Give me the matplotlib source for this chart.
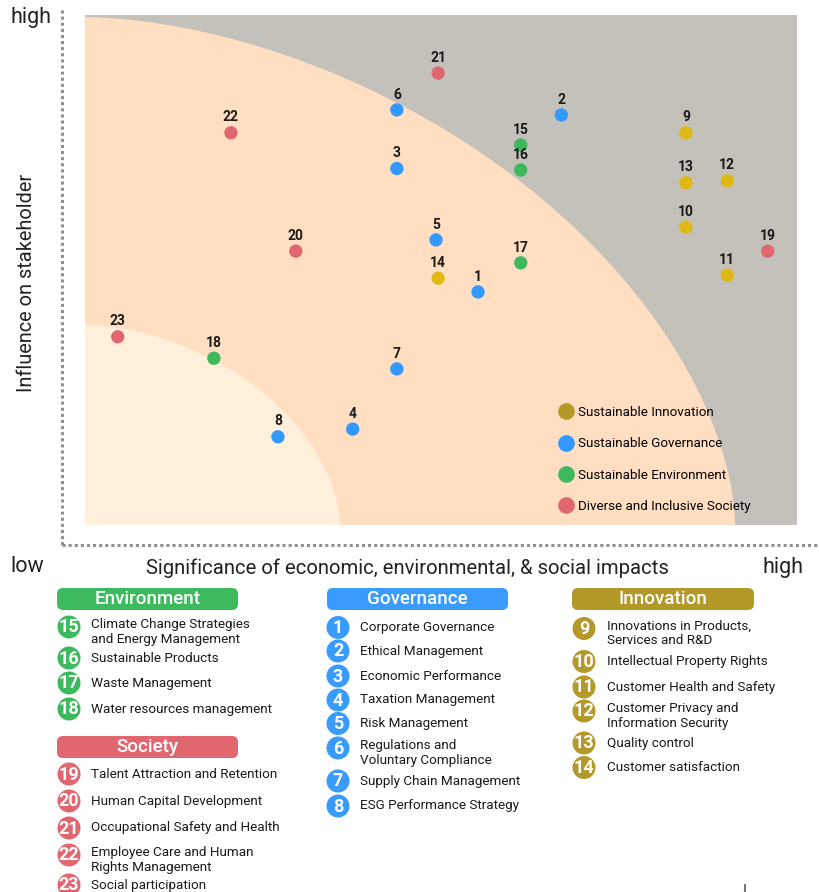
import numpy as np
import matplotlib
matplotlib.use("Agg")
import matplotlib.pyplot as plt
from matplotlib.patches import Polygon, FancyBboxPatch, Circle
from matplotlib.lines import Line2D

plt.rcParams['font.family'] = ['Roboto', 'DejaVu Sans']

# ---------------- data ----------------
ids = [1, 2, 3, 4, 5, 6, 7, 8,
       9, 10, 11, 12, 13, 14,
       15, 16, 17, 18,
       19, 20, 21, 22, 23]
sig = [5.52, 6.69, 4.38, 3.76, 4.93, 4.38, 4.38, 2.71,
       8.44, 8.44, 9.02, 9.02, 8.44, 4.96,
       6.12, 6.12, 6.12, 1.81,
       9.59, 2.96, 4.96, 2.05, 0.46]
infl = [4.57, 8.04, 6.99, 1.88, 5.59, 8.14, 3.06, 1.73,
        7.69, 5.84, 4.90, 6.75, 6.71, 4.84,
        7.45, 6.96, 5.14, 3.27,
        5.37, 5.37, 8.86, 7.69, 3.69]
group = ['gov'] * 8 + ['inn'] * 6 + ['env'] * 4 + ['soc'] * 5

legend_labels = ['Sustainable Innovation', 'Sustainable Governance',
                 'Sustainable Environment', 'Diverse and Inclusive Society']
legend_groups = ['inn', 'gov', 'env', 'soc']

env_nums = [15, 16, 17, 18]
env_items = ['Climate Change Strategies\nand Energy Management', 'Sustainable Products',
             'Waste Management', 'Water resources management']
soc_nums = [19, 20, 21, 22, 23]
soc_items = ['Talent Attraction and Retention', 'Human Capital Development',
             'Occupational Safety and Health', 'Employee Care and Human\nRights Management',
             'Social participation']
gov_nums = [1, 2, 3, 4, 5, 6, 7, 8]
gov_items = ['Corporate Governance', 'Ethical Management', 'Economic Performance',
             'Taxation Management', 'Risk Management', 'Regulations and\nVoluntary Compliance',
             'Supply Chain Management', 'ESG Performance Strategy']
inn_nums = [9, 10, 11, 12, 13, 14]
inn_items = ['Innovations in Products,\nServices and R&D', 'Intellectual Property Rights',
             'Customer Health and Safety', 'Customer Privacy and\nInformation Security',
             'Quality control', 'Customer satisfaction']

# ---------------- styles ----------------
point_col = {'gov': '#3399FF', 'inn': '#E0B814', 'env': '#3DB85E', 'soc': '#E06670'}
head_col = {'gov': '#3A9BFF', 'inn': '#B3982A', 'env': '#3DBA5E', 'soc': '#E06670'}

W, H = 819, 892
fig = plt.figure(figsize=(W / 100, H / 100), dpi=100)

def fx(px):
    return px / W

def fy(py):
    return 1 - py / H

# main chart axes
ax = fig.add_axes([fx(85), fy(525), (797 - 85) / W, (525 - 15) / H])
ax.set_xlim(0, 10)
ax.set_ylim(0, 10)
ax.set_facecolor('#C4C1BA')
for s in ax.spines.values():
    s.set_visible(False)
ax.set_xticks([])
ax.set_yticks([])

def superellipse(a, b, n):
    t = np.linspace(0, np.pi / 2, 200)
    xs = a * np.cos(t) ** (2 / n)
    ys = b * np.sin(t) ** (2 / n)
    return np.vstack([np.column_stack([xs, ys]), [[0, 0]]])

ax.add_patch(Polygon(superellipse(9.13, 9.96, 1.75), closed=True,
                     facecolor='#FFDEC2', edgecolor='none', zorder=1))
ax.add_patch(Polygon(superellipse(3.58, 3.92, 1.8), closed=True,
                     facecolor='#FFEFDB', edgecolor='none', zorder=2))

cols = [point_col[g] for g in group]
ax.scatter(sig, infl, s=92, c=cols, edgecolors='none', zorder=5)
for i, x, y in zip(ids, sig, infl):
    ax.annotate(str(i), (x, y), xytext=(0, 6), textcoords='offset points',
                ha='center', va='bottom', fontsize=10, fontweight='bold',
                color='#1a1a1a', zorder=6)

handles = [Line2D([0], [0], marker='o', linestyle='none', markersize=12,
                  markerfacecolor=head_col[g] if g == 'inn' else point_col[g],
                  markeredgecolor='none') for g in legend_groups]
ax.legend(handles, legend_labels, loc='upper left',
          bbox_to_anchor=(fx(558), fy(406)), bbox_transform=fig.transFigure,
          frameon=False, fontsize=9.6, handlelength=1.25, handletextpad=0.25,
          labelspacing=1.37, borderpad=0, borderaxespad=0)

# overlay axes in pixel units for the decorative frame and lists
ov = fig.add_axes([0, 0, 1, 1], zorder=10)
ov.set_xlim(0, W)
ov.set_ylim(H, 0)
ov.axis('off')

ov.plot([62, 62], [10, 545], color='#8f8f8f', lw=2.2, linestyle=(0, (1, 1)),
        solid_capstyle='butt', dash_capstyle='butt')
ov.plot([62, 819], [545, 545], color='#8f8f8f', lw=2.2, linestyle=(0, (1, 1)),
        solid_capstyle='butt', dash_capstyle='butt')
ov.plot([745, 745], [885, 892], color='#777777', lw=1.5)

ov.text(10, 18, 'high', fontsize=15.5, ha='left', va='center', color='#222222')
ov.text(10, 567, 'low', fontsize=15.5, ha='left', va='center', color='#222222')
ov.text(803, 567, 'high', fontsize=15.5, ha='right', va='center', color='#222222')
ov.text(407, 568, 'Significance of economic, environmental, & social impacts',
        fontsize=14.6, ha='center', va='center', color='#222222')
ov.text(27, 283, 'Influence on stakeholder', fontsize=14.4, rotation=90,
        ha='center', va='center', color='#222222')

def header(x0, x1, y0, y1, label, col):
    ov.add_patch(FancyBboxPatch((x0, y0), x1 - x0, y1 - y0,
                                boxstyle='round,pad=0,rounding_size=6',
                                facecolor=col, edgecolor='none'))
    ov.text((x0 + x1) / 2, (y0 + y1) / 2 + 0.5, label, fontsize=13.5,
            fontweight='medium', color='white', ha='center', va='center')

def items(cx, tx, ys, nums, texts, col):
    for y, n, t in zip(ys, nums, texts):
        ov.add_patch(Circle((cx, y), 11.5, facecolor=col, edgecolor='none'))
        ov.text(cx, y + 0.5, str(n), fontsize=13, fontweight='bold', color='white',
                ha='center', va='center')
        nl = t.count('\n')
        ty = y if nl == 0 else y - 3 + 7.8 * nl
        ov.text(tx, ty, t, fontsize=9.7, color='#1a1a1a', ha='left', va='center',
                linespacing=1.16)

header(57, 238, 588, 610, 'Environment', head_col['env'])
items(69, 91, [627, 658, 683, 709], env_nums, env_items, head_col['env'])

header(57, 238, 736, 758, 'Society', head_col['soc'])
items(69, 91, [774, 801, 828, 855, 885], soc_nums, soc_items, head_col['soc'])

header(327, 508, 588, 610, 'Governance', head_col['gov'])
items(338, 360, [627.5, 651, 676, 700, 723.5, 748, 781, 806], gov_nums, gov_items,
      head_col['gov'])

header(572, 754, 588, 610, 'Innovation', head_col['inn'])
items(584, 607, [628.5, 661.5, 687, 711, 743, 767.5], inn_nums, inn_items,
      head_col['inn'])

fig.savefig('out.png', dpi=100)
